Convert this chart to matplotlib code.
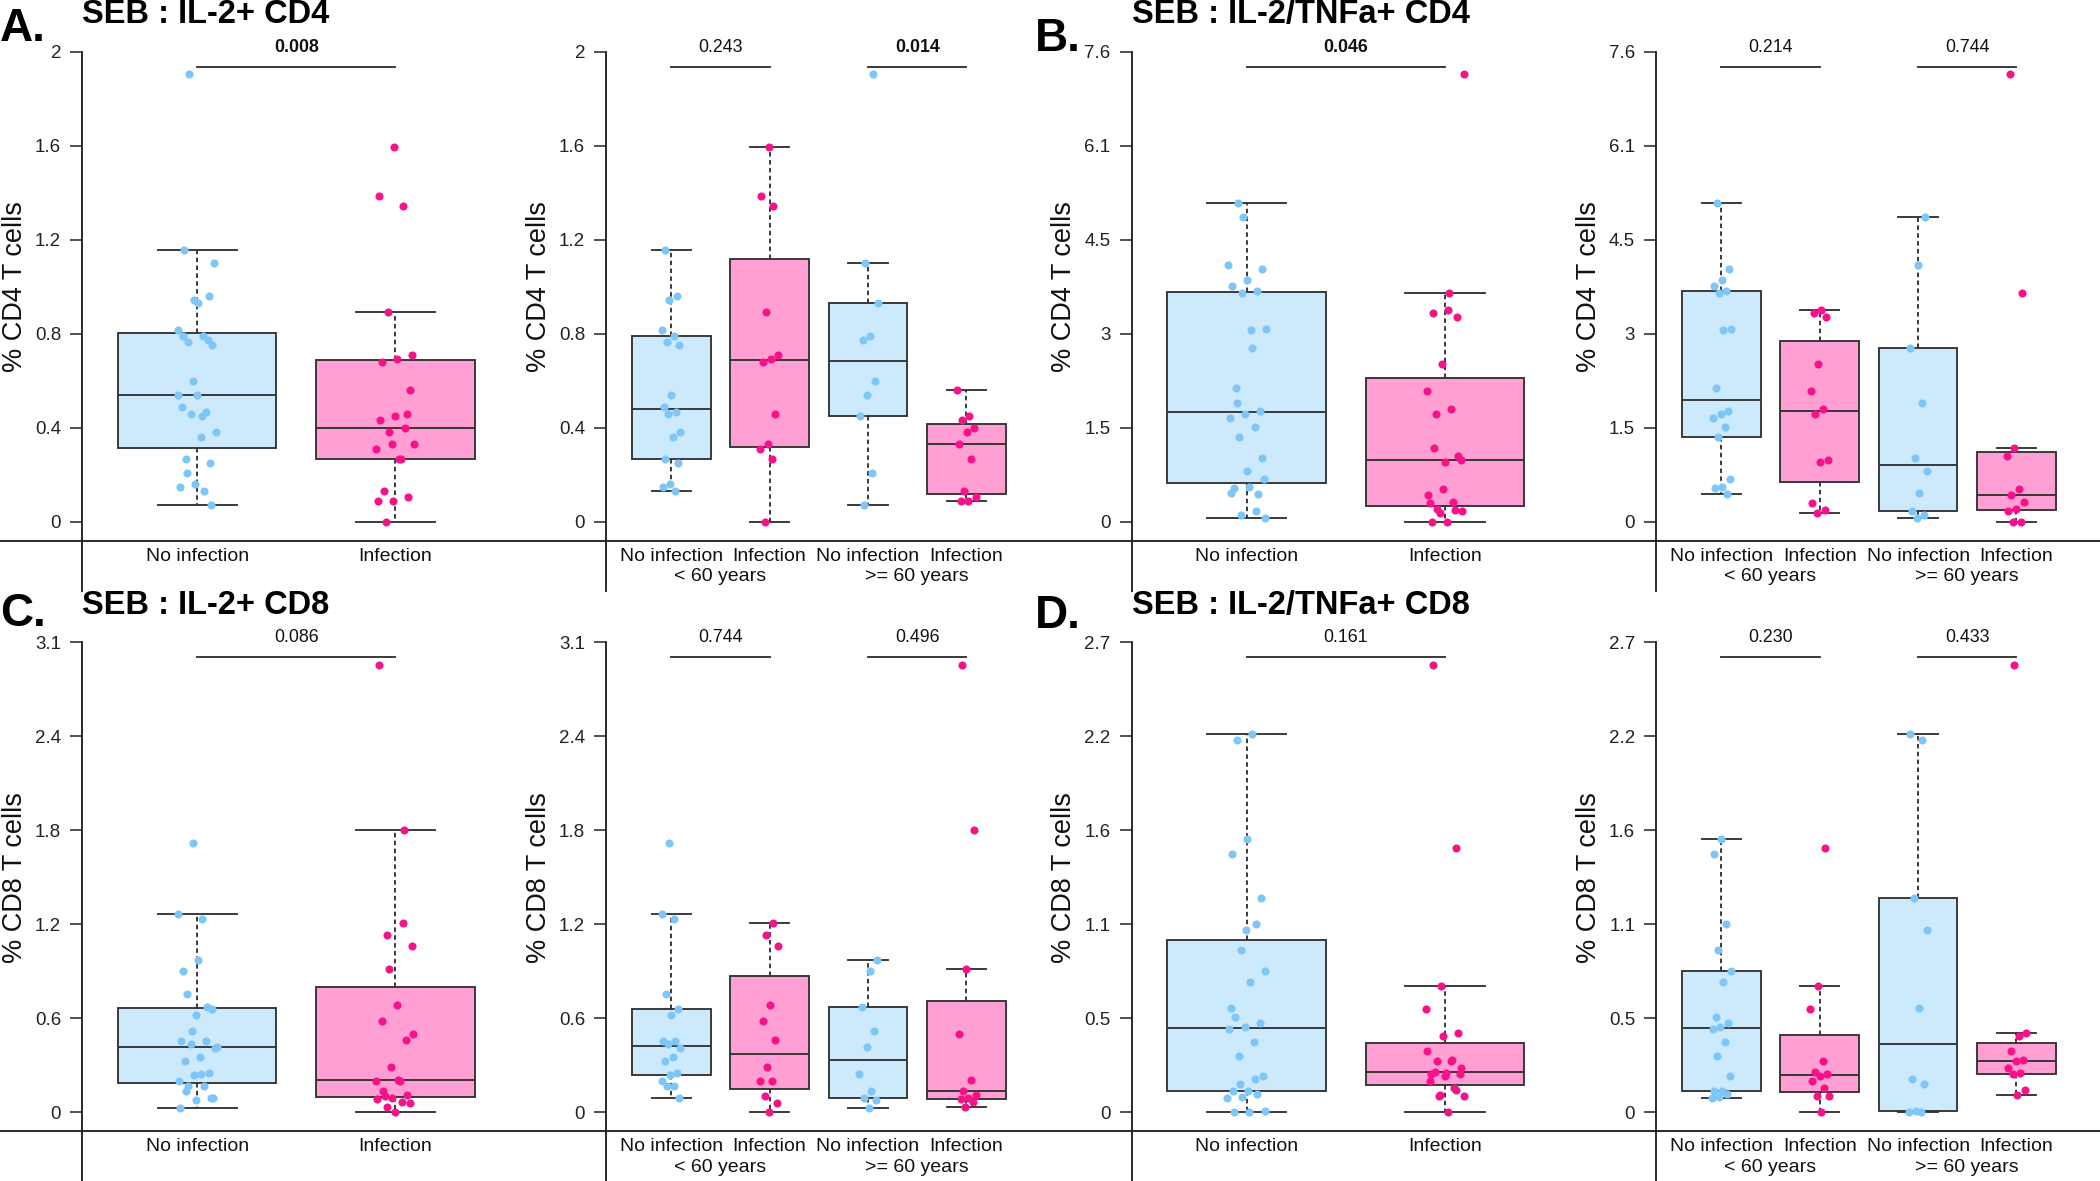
import numpy as np
import matplotlib
matplotlib.use("Agg")
import matplotlib.pyplot as plt
import matplotlib.transforms as mtransforms
from matplotlib.lines import Line2D

plt.rcParams["font.family"] = ["Liberation Sans", "DejaVu Sans"]

# ---- data: % of T cells per donor, split by infection and age (<60 / >=60) ----
A_no_u60 = [1.155, 0.962, 0.945, 0.815, 0.791, 0.764, 0.753, 0.540, 0.488, 0.469,
            0.460, 0.381, 0.359, 0.269, 0.250, 0.159, 0.147, 0.130]
A_no_o60 = [1.905, 1.103, 0.932, 0.791, 0.772, 0.599, 0.540, 0.452, 0.208, 0.070]
A_inf_u60 = [1.596, 1.387, 1.345, 0.894, 0.711, 0.695, 0.679, 0.460, 0.330, 0.311, 0.269, 0.000]
A_inf_o60 = [0.562, 0.452, 0.434, 0.399, 0.381, 0.330, 0.269, 0.130, 0.106, 0.088, 0.088]

B_no_u60 = [5.128, 4.072, 3.896, 3.805, 3.726, 3.684, 3.101, 3.089, 2.149, 1.790,
            1.742, 1.675, 1.535, 1.360, 0.686, 0.558, 0.540, 0.449]
B_no_o60 = [4.916, 4.139, 2.804, 1.906, 1.020, 0.825, 0.460, 0.176, 0.115, 0.055]
B_inf_u60 = [3.405, 3.356, 3.295, 2.537, 2.112, 1.820, 1.742, 1.001, 0.971, 0.297, 0.194, 0.146]
B_inf_o60 = [7.210, 3.684, 1.196, 1.062, 0.528, 0.437, 0.316, 0.212, 0.176, 0.000, 0.000]

C_no_u60 = [1.752, 1.291, 1.262, 0.769, 0.671, 0.632, 0.466, 0.463, 0.443, 0.421,
            0.358, 0.331, 0.255, 0.245, 0.206, 0.172, 0.169, 0.091]
C_no_o60 = [0.990, 0.919, 0.686, 0.532, 0.426, 0.250, 0.140, 0.090, 0.078, 0.025]
C_inf_u60 = [1.232, 1.154, 1.083, 0.698, 0.593, 0.470, 0.292, 0.201, 0.201, 0.108, 0.061, 0.000]
C_inf_o60 = [2.914, 1.838, 0.933, 0.512, 0.208, 0.137, 0.115, 0.091, 0.086, 0.065, 0.037]

D_no_u60 = [1.569, 1.483, 1.081, 0.930, 0.811, 0.748, 0.549, 0.512, 0.491, 0.480,
            0.404, 0.322, 0.210, 0.123, 0.123, 0.106, 0.090, 0.080]
D_no_o60 = [2.175, 2.140, 1.232, 1.048, 0.597, 0.190, 0.160, 0.009, 0.004, 0.000]
D_inf_u60 = [1.520, 0.728, 0.592, 0.292, 0.231, 0.220, 0.210, 0.177, 0.138, 0.091, 0.091, 0.000]
D_inf_o60 = [2.571, 0.458, 0.441, 0.355, 0.303, 0.292, 0.253, 0.225, 0.220, 0.128, 0.102]

letters = ["A.", "B.", "C.", "D."]
titles = ["SEB : IL-2+ CD4", "SEB : IL-2/TNFa+ CD4", "SEB : IL-2+ CD8", "SEB : IL-2/TNFa+ CD8"]
ylabels = ["% CD4 T cells", "% CD4 T cells", "% CD8 T cells", "% CD8 T cells"]
ymax = [2.0, 7.57, 3.06, 2.7]
yticklabels = [["0", "0.4", "0.8", "1.2", "1.6", "2"],
               ["0", "1.5", "3", "4.5", "6.1", "7.6"],
               ["0", "0.6", "1.2", "1.8", "2.4", "3.1"],
               ["0", "0.5", "1.1", "1.6", "2.2", "2.7"]]
p_all = ["0.008", "0.046", "0.086", "0.161"]
p_age = [["0.243", "0.014"], ["0.214", "0.744"], ["0.744", "0.496"], ["0.230", "0.433"]]
p_bold = {"0.008", "0.014", "0.046"}
cat_labels = ["No infection", "Infection"]
age_labels = ["< 60 years", ">= 60 years"]

groups = [(A_no_u60, A_no_o60, A_inf_u60, A_inf_o60),
          (B_no_u60, B_no_o60, B_inf_u60, B_inf_o60),
          (C_no_u60, C_no_o60, C_inf_u60, C_inf_o60),
          (D_no_u60, D_no_o60, D_inf_u60, D_inf_o60)]

# ---- styling ----
W, H = 2100, 1181
BLUE_PT, PINK_PT = "#7EC6F7", "#F8128A"
BLUE_BOX, PINK_BOX = "#CDE9FC", "#FF9FD3"
LINE = "#333333"
LW = 1.35


def fivenum_stats(x):
    """R boxplot.stats: Tukey hinges, whiskers to most extreme point within 1.5 IQR."""
    x = np.sort(np.asarray(x, float))
    n = len(x)
    n4 = np.floor((n + 3) / 2) / 2
    d = np.array([1, n4, (n + 1) / 2, n + 1 - n4, n]) - 1
    f = 0.5 * (x[np.floor(d).astype(int)] + x[np.ceil(d).astype(int)])
    iqr = f[3] - f[1]
    inside = x[(x >= f[1] - 1.5 * iqr) & (x <= f[3] + 1.5 * iqr)]
    return dict(med=f[2], q1=f[1], q3=f[3], whislo=inside.min(), whishi=inside.max(), fliers=[])


def jitter(n, phase):
    # deterministic spread of +-0.1 (R stripchart jitter)
    return ((np.arange(n) * 0.618034 + phase) % 1.0 - 0.5) * 0.2


fig = plt.figure(figsize=(W / 100, H / 100), dpi=100)
to_fig = fig.transFigure.inverted()

spine_x = [82.3, 606.3, 1131.8, 1656.4]
ax_w = [428, 425, 428, 425]
row_off = [0, 590.5]

for k in range(4):
    row = k // 2
    ro = row_off[row]
    no_u, no_o, inf_u, inf_o = groups[k]
    M = ymax[k]
    for side in range(2):
        col = (k % 2) * 2 + side
        ax = fig.add_axes([spine_x[col] / W, 1 - (ro + 540.6) / H, ax_w[col] / W, 507.5 / H])
        if side == 0:
            data = [list(no_u) + list(no_o), list(inf_u) + list(inf_o)]
            fills = [BLUE_BOX, PINK_BOX]
            pts = [BLUE_PT, PINK_PT]
            ax.set_xlim(0.42, 2.58)
        else:
            data = [no_u, inf_u, no_o, inf_o]
            fills = [BLUE_BOX, PINK_BOX] * 2
            pts = [BLUE_PT, PINK_PT] * 2
            ax.set_xlim(0.34, 4.66)
        pos = np.arange(1, len(data) + 1)
        ax.set_ylim(-0.04 * M, 1.04 * M)

        bp = ax.bxp([fivenum_stats(d) for d in data], positions=pos, widths=0.8,
                    capwidths=0.4, patch_artist=True, showfliers=False,
                    boxprops=dict(edgecolor=LINE, linewidth=LW),
                    medianprops=dict(color=LINE, linewidth=LW),
                    whiskerprops=dict(color=LINE, linewidth=LW, linestyle=(0, (2.4, 1.8))),
                    capprops=dict(color=LINE, linewidth=LW))
        for patch, c in zip(bp["boxes"], fills):
            patch.set_facecolor(c)
        for i, (d, c) in enumerate(zip(data, pts)):
            xs = pos[i] + jitter(len(d), 0.17 + 0.29 * i + 0.11 * k)
            ax.scatter(xs, d, s=34, color=c, linewidths=0, zorder=3)

        # significance brackets
        pairs = [(1, 2)] if side == 0 else [(1, 2), (3, 4)]
        plabs = [p_all[k]] if side == 0 else p_age[k]
        for (a, b), pl in zip(pairs, plabs):
            ax.plot([a, b], [0.968 * M] * 2, color=LINE, lw=LW, clip_on=False)
            ax.text((a + b) / 2, 1.01 * M, pl, ha="center", va="center", fontsize=12.8,
                    fontweight="bold" if pl in p_bold else "normal", color="#111111")

        # axes styling (R base look)
        for s in ax.spines.values():
            s.set_visible(False)
        ax.set_xticks([])
        ax.set_yticks(np.linspace(0, M, 6))
        ax.set_yticklabels(yticklabels[k])
        ax.tick_params(axis="y", length=8.3, width=1.2, pad=7, labelsize=13.5,
                       color=LINE, labelcolor="#222222")
        ax.patch.set_visible(False)

        # y axis line: from top tick down to bottom of panel block
        top_y = to_fig.transform(ax.transData.transform((1, M)))[1]
        bot_y = 1 - (ro + 590.5) / H if row == 0 else 0
        xf = spine_x[col] / W
        fig.add_artist(Line2D([xf, xf], [bot_y, top_y], color="#222222", lw=LW))

        # category labels under the baseline
        tr = mtransforms.blended_transform_factory(ax.transData, fig.transFigure)
        y1 = 1 - (ro + 560.6) / H
        y2 = 1 - (ro + 581.0) / H
        for i, p in enumerate(pos):
            ax.text(p, y1, cat_labels[i % 2], transform=tr, ha="center", va="baseline",
                    fontsize=14, color="#111111")
        if side == 1:
            for j, g in enumerate(age_labels):
                ax.text(1.5 + 2 * j, y2, g, transform=tr, ha="center", va="baseline",
                        fontsize=14, color="#111111")

        fig.text((spine_x[col] - 67.5) / W, 1 - (ro + 286.9) / H, ylabels[k],
                 rotation=90, ha="center", va="center", fontsize=19.5, color="#111111")

    # panel letter and title
    lx = [0, 1035, 0, 1035][k]
    ly = [41.4, 50.8, 625.8, 627.6][k]
    fig.text(lx / W, 1 - ly / H, letters[k], fontsize=33, fontweight="bold",
             ha="left", va="baseline")
    tx = spine_x[(k % 2) * 2]
    fig.text(tx / W, 1 - (ro + 23.3) / H, titles[k], fontsize=23.5, fontweight="bold",
             ha="left", va="baseline")

# baselines spanning the whole width
for ro in row_off:
    yb = 1 - (ro + 540.6) / H
    fig.add_artist(Line2D([0, 1], [yb, yb], color="#222222", lw=LW))

fig.savefig("out.png", dpi=100, facecolor="white")
